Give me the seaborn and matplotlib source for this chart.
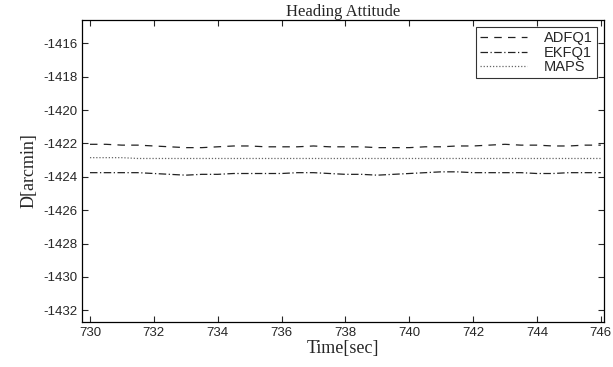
import matplotlib
matplotlib.use("Agg")
import matplotlib.pyplot as plt
import numpy as np
import pandas as pd
import seaborn as sns

# tiempo cada 0.5 s
time = [730.0, 730.5, 731.0, 731.5, 732.0, 732.5, 733.0, 733.5, 734.0, 734.5,
        735.0, 735.5, 736.0, 736.5, 737.0, 737.5, 738.0, 738.5, 739.0, 739.5,
        740.0, 740.5, 741.0, 741.5, 742.0, 742.5, 743.0, 743.5, 744.0, 744.5,
        745.0, 745.5, 746.0]
adfq1 = [-1422.05, -1422.05, -1422.1, -1422.1, -1422.15, -1422.2, -1422.25, -1422.25, -1422.2, -1422.15,
         -1422.15, -1422.2, -1422.2, -1422.2, -1422.15, -1422.2, -1422.2, -1422.2, -1422.25, -1422.25,
         -1422.25, -1422.2, -1422.2, -1422.15, -1422.15, -1422.1, -1422.05, -1422.1, -1422.1, -1422.15,
         -1422.15, -1422.1, -1422.1]
ekfq1 = [-1423.75, -1423.75, -1423.75, -1423.75, -1423.8, -1423.85, -1423.9, -1423.85, -1423.85, -1423.8,
         -1423.8, -1423.8, -1423.8, -1423.75, -1423.75, -1423.8, -1423.85, -1423.85, -1423.9, -1423.85,
         -1423.8, -1423.75, -1423.7, -1423.7, -1423.75, -1423.75, -1423.75, -1423.75, -1423.8, -1423.8,
         -1423.75, -1423.75, -1423.75]
maps = [-1422.85, -1422.85, -1422.85, -1422.9, -1422.9, -1422.9, -1422.9, -1422.9, -1422.9, -1422.9,
        -1422.9, -1422.9, -1422.9, -1422.9, -1422.9, -1422.9, -1422.9, -1422.9, -1422.9, -1422.9,
        -1422.9, -1422.9, -1422.9, -1422.9, -1422.9, -1422.9, -1422.9, -1422.9, -1422.9, -1422.9,
        -1422.9, -1422.9, -1422.9]
x_ticks = [730, 732, 734, 736, 738, 740, 742, 744, 746]
y_ticks = [-1416, -1418, -1420, -1422, -1424, -1426, -1428, -1430, -1432]

df = pd.DataFrame({"t": time, "ADFQ1": adfq1, "EKFQ1": ekfq1, "MAPS": maps})

sns.set_style("ticks")
plt.rcParams["font.family"] = ["Liberation Sans", "DejaVu Sans"]
plt.rcParams["axes.unicode_minus"] = False
plt.rcParams["xtick.direction"] = "in"
plt.rcParams["ytick.direction"] = "in"

fig = plt.figure(figsize=(6.13, 3.67), dpi=100)
ax = fig.add_axes([82 / 613, 1 - 322 / 367, (604 - 82) / 613, (322 - 20) / 367])

estilos = {"ADFQ1": (0, (6, 5)), "EKFQ1": (0, (6, 2, 1, 2)), "MAPS": (0, (1, 1.5))}
colores = {"ADFQ1": "#222222", "EKFQ1": "#222222", "MAPS": "#666666"}
for serie in ["ADFQ1", "EKFQ1", "MAPS"]:
    sns.lineplot(data=df, x="t", y=serie, ax=ax, color=colores[serie],
                 linestyle=estilos[serie], linewidth=0.9, label=serie)

ax.set_xlim(729.75, 746.1)
ax.set_ylim(-1432.7, -1414.6)
ax.set_xticks(x_ticks)
ax.set_yticks(y_ticks)
ax.tick_params(labelsize=9.5, length=4, width=0.8, top=True, right=True)
for s in ax.spines.values():
    s.set_linewidth(0.9)
    s.set_color("black")

ax.set_title("Heading Attitude", family="Liberation Serif", fontsize=12, pad=3)
ax.set_xlabel("Time[sec]", family="Liberation Serif", fontsize=13, labelpad=1)
ax.set_ylabel("D[arcmin]", family="Liberation Serif", fontsize=13, labelpad=4)

leg = ax.legend(loc="upper right", fontsize=10.5, frameon=True, fancybox=False,
                edgecolor="black", borderaxespad=0.5, handlelength=3.2,
                handletextpad=1.2, labelspacing=0.05, borderpad=0.25)
leg.get_frame().set_linewidth(0.8)

fig.savefig("out.png", dpi=100)
